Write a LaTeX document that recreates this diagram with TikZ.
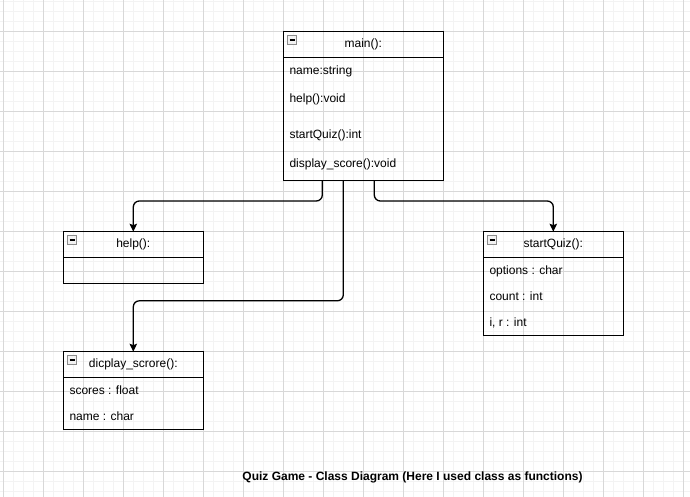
\documentclass[tikz,border=0pt]{standalone}
\usepackage{fontspec}
\setmainfont{Liberation Sans}
\usetikzlibrary{arrows.meta,calc}
\definecolor{minorgrid}{HTML}{F3F3F3}
\definecolor{majorgrid}{HTML}{D8D8D8}
\definecolor{iconborder}{HTML}{8A8A8A}
\definecolor{iconfill}{HTML}{F2F2F2}
\tikzset{
  umlbox/.style={draw=black, line width=1pt, anchor=north west, inner sep=0pt, outer sep=0pt},
  iconbox/.style={draw=iconborder, fill=iconfill, line width=0.8pt, minimum size=8.5pt, inner sep=0pt},
  titletext/.style={inner sep=0pt, font=\fontsize{12}{14}\selectfont, text height=8.6pt, text depth=2.4pt},
  attr/.style={anchor=west, inner sep=0pt, font=\fontsize{12}{14}\selectfont, text height=8.6pt, text depth=2.4pt},
  conn/.style={draw=black, line width=1.3pt, rounded corners=6pt, -{Stealth[length=8pt,width=7.5pt,inset=1.5pt]}},
  caption/.style={inner sep=0pt, font=\bfseries\fontsize{12}{14}\selectfont}
}
\newcommand{\ClassBox}[6]{%
  \node[umlbox, minimum width=#4pt, minimum height=#5pt] (#1) at (#2,#3) {};
  \draw[black, line width=1pt] ([yshift=-25.6pt]#1.north west) -- ([yshift=-25.6pt]#1.north east);
  \node[iconbox] (#1icon) at ([xshift=8.8pt,yshift=-8.3pt]#1.north west) {};
  \draw[black, line width=1.1pt] ([xshift=-2.6pt]#1icon.center) -- ([xshift=2.6pt]#1icon.center);
  \node[titletext] (#1title) at ([yshift=-12.8pt]#1.north) {#6};
}
\begin{document}
\begin{tikzpicture}[x=1pt,y=-1pt]
\useasboundingbox (0,0) rectangle (690,497);
\fill[white] (0,0) rectangle (690,497);
% grid
\foreach \k in {0,...,68} {
  \draw[minorgrid, line width=0.8pt] ({3.3+10*\k},0) -- ({3.3+10*\k},497);
}
\foreach \k in {0,...,49} {
  \draw[minorgrid, line width=0.8pt] (0,{1.7+10*\k}) -- (690,{1.7+10*\k});
}
\foreach \k in {0,...,17} {
  \draw[majorgrid, line width=0.9pt] ({3.3+40*\k},0) -- ({3.3+40*\k},497);
}
\foreach \k in {0,...,11} {
  \draw[majorgrid, line width=0.9pt] (0,{31.7+40*\k}) -- (690,{31.7+40*\k});
}

% classes
\ClassBox{main}{283.3}{31.7}{160}{149.3}{main():}
\node[attr] (m1) at ($(main.north west)+(6,40)$) {name:string};
\node[attr] (m2) at ($(main.north west)+(6,68)$) {help():void};
\node[attr] (m3) at ($(main.north west)+(6,104)$) {startQuiz():int};
\node[attr] (m4) at ($(main.north west)+(6,133)$) {display\_score():void};

\ClassBox{help}{63.3}{231.7}{140}{51.6}{help():}

\ClassBox{quiz}{483.3}{231.7}{140}{103.3}{startQuiz():}
\node[attr] (q1) at ($(quiz.north west)+(6,40)$) {options : char};
\node[attr] (q2) at ($(quiz.north west)+(6,65.7)$) {count : int};
\node[attr] (q3) at ($(quiz.north west)+(6,91.3)$) {i, r : int};

\ClassBox{disp}{63.3}{351.7}{140}{77.6}{dicplay\_scrore():}
\node[attr] (d1) at ($(disp.north west)+(6,39.7)$) {scores : float};
\node[attr] (d2) at ($(disp.north west)+(6,65.7)$) {name : char};

% connectors
\coordinate (s1) at ([xshift=39pt]main.south west);
\coordinate (s2) at ([xshift=60pt]main.south west);
\coordinate (s3) at ([xshift=91pt]main.south west);
\draw[conn] (s1) -- (s1 |- 0,201) -- (help.north |- 0,201) -- (help.north);
\draw[conn] (s2) -- (s2 |- 0,300.8) -- (disp.north |- 0,300.8) -- (disp.north);
\draw[conn] (s3) -- (s3 |- 0,201) -- (quiz.north |- 0,201) -- (quiz.north);

% caption
\node[caption] (cap) at (412.5,477.7) {Quiz Game - Class Diagram (Here I used class as functions)};
\end{tikzpicture}
\end{document}
